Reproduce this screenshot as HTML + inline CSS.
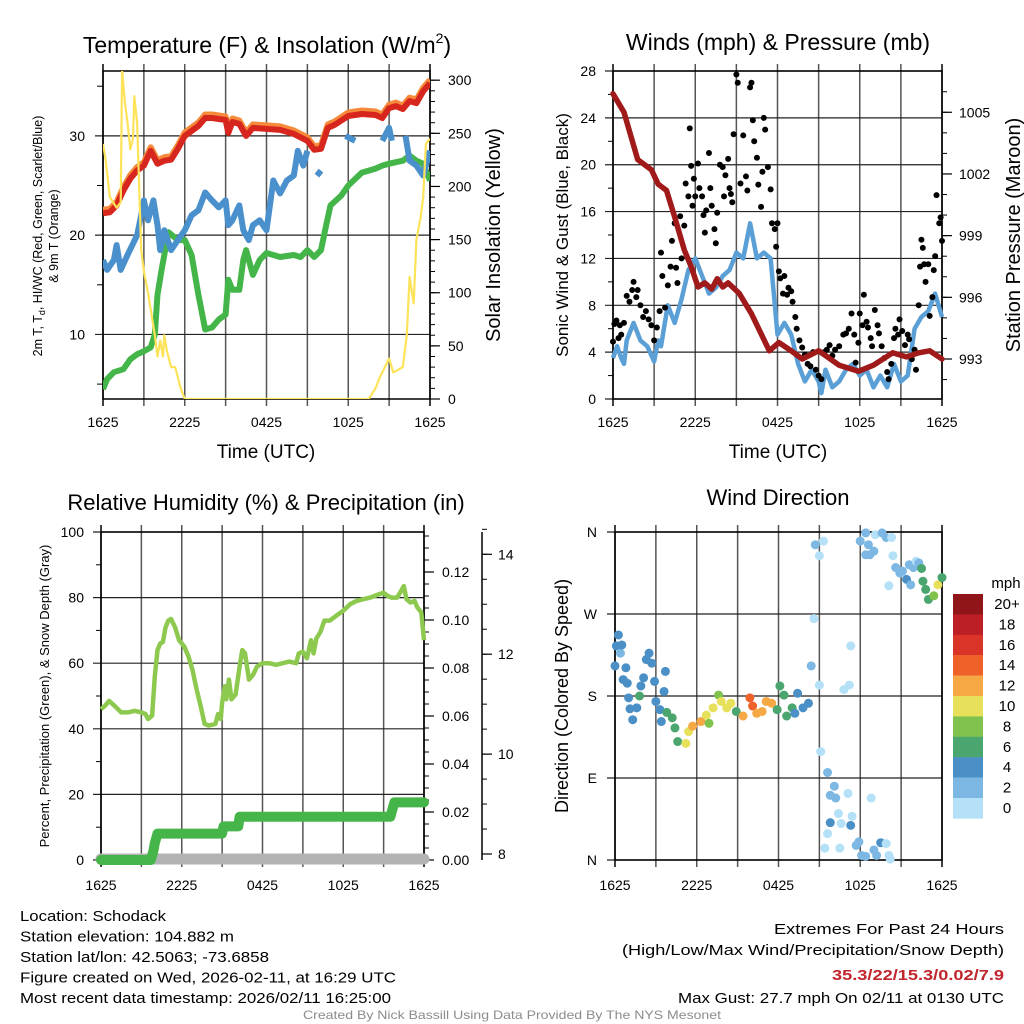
<!DOCTYPE html>
<html><head><meta charset="utf-8"><style>
html,body{margin:0;padding:0;background:#fff;}
svg{display:block;font-family:"Liberation Sans",sans-serif;}
</style></head><body>
<svg id="fig" xmlns="http://www.w3.org/2000/svg" width="1024" height="1024" viewBox="0 0 1024 1024">
<rect width="1024" height="1024" fill="#fff"/>
</svg>
<script>
// ---------- DATA ----------
const hoursT = [0,0.5,1,1.5,2,2.5,3,3.5,4,4.5,5,5.5,6,7,7.5,8,8.5,9,9.2,9.5,10,10.5,11,12,13,14,15,15.5,16,16.5,17,18,19,20,20.5,21,21.5,22,22.5,23,23.5,24];
const tempRed = [22.2,22.3,23,24.5,25.7,26.5,27,28.5,27.2,27.5,27.6,28.7,30,31,31.8,31.8,31.7,31.6,30.3,31.4,31.2,30,30.8,30.7,30.6,30.2,29.5,28.6,28.7,30.8,31.1,32,32.2,32.1,31.8,32.8,33,32.7,33.5,33.3,34.5,35.3];
const hoursWC = [0,0.3,0.8,1,1.3,1.8,2.5,2.8,3,3.3,3.7,4,4.2,4.5,5,5.5,6,6.5,7,7.5,8,8.5,9,9.2,9.5,10,10.3,10.7,11,11.5,12,12.3,12.5,13,13.5,14,14.3,14.7,15,15.3,15.7,16,17.3,17.8,18.5,19,20.4,20.5,21,21.2,21.6,22.2,22.5,23,23.5,24];
const windChill = [17.5,16.5,17.5,19,16.5,18,20,22,23.5,21.5,23.5,21,18.5,20.5,18.5,19.5,20.5,22,22.5,24.3,23.5,22.8,23.5,21,21.5,23,20.5,19.5,21,21.5,20.5,23.5,25.5,24.2,25.5,26,28.5,27,28.5,null,26,26.5,null,30,29.5,null,null,29.5,30.8,29.5,null,30,27.5,27,26,28.5];
const hoursTd = [0,0.3,0.8,1.5,2,2.5,3,3.5,3.8,4,4.3,4.5,4.8,5.5,6,6.5,7,7.5,8,8.5,9,9.2,9.5,10,10.3,10.5,11,11.5,12,13,14,14.5,15,15.5,16,16.3,16.7,17.5,18,19,20,20.5,21,22,22.5,23,23.5,24];
const dewPoint = [4.5,5.5,6.2,6.5,7.5,8,8.3,8.7,10,14,16.5,18,20.3,19.5,19.5,18,14,10.5,10.7,11.5,12,15.5,14.5,14.5,17.5,18.5,16,17.5,18.2,17.8,18,17.8,18.5,17.8,18.5,20.5,23,24,25,26.3,26.7,27,27.2,27.5,28,27.5,27.2,25.5];
const hoursSol = [0,0.2,0.5,1,1.3,1.4,1.6,1.8,2,2.2,2.3,2.5,2.8,3,3.3,3.8,4,4.2,4.4,4.5,4.7,5,5.3,5.7,6,19.5,20,20.3,20.5,21,21.3,21.6,22,22.3,22.5,22.8,23,23.3,23.5,23.7,24];
const solar = [240,225,190,180,185,310,280,260,235,245,285,260,140,120,100,60,40,55,40,60,45,30,30,10,0,0,10,20,25,38,25,27,30,60,115,90,150,170,190,240,245];

const hoursWind = [0,0.3,0.6,0.8,1,1.5,2,2.5,3,3.3,3.5,4,4.5,5,5.5,6,6.5,7,7.5,8,8.5,9,9.5,10,10.5,11,11.5,12,12.5,13,13.5,14,14.5,15,15.2,15.5,16,16.5,17,17.5,18,18.5,19,19.5,20,20.5,21,21.5,22,22.5,23,23.5,24];
const sonicWind = [3.5,4.5,3.5,3,5,6.5,5,4.5,3.2,5,4.5,8,6.5,8.5,11,12,10.5,9,9.5,10.5,11,12.5,12,15,12,12.5,12,5.5,6.5,5.5,3,1.5,2.5,1.5,0.5,2.5,1,1.5,2.5,3,2,2.5,1,2,1,3,1.5,2,6,7,7.5,9,7];
const gustHours = [0,0.1,0.25,0.4,0.5,0.6,0.8,1,1.2,1.4,1.5,1.7,1.8,2,2.2,2.4,2.6,2.8,3,3.2,3.4,3.5,3.6,3.8,4,4.2,4.3,4.5,4.6,4.7,4.9,5,5.2,5.3,5.5,5.6,5.7,5.8,5.9,6,6.2,6.3,6.5,6.6,6.7,6.8,7,7.1,7.2,7.4,7.5,7.6,7.8,8,8.1,8.2,8.4,8.5,8.6,8.7,8.8,9,9.1,9.3,9.5,9.7,9.8,10,10.1,10.2,10.3,10.5,10.6,10.8,10.9,11,11.1,11.3,11.5,11.6,11.8,11.9,12,12.1,12.2,12.4,12.5,12.7,12.8,13,13.1,13.3,13.4,13.6,13.8,14,14.2,14.4,14.6,14.8,15,15.2,15.4,15.6,15.8,16,16.2,16.5,16.8,17,17.2,17.4,17.6,17.7,17.9,18,18.2,18.3,18.5,18.6,18.8,18.9,19.1,19.3,19.4,19.6,19.8,20,20.1,20.3,20.5,20.6,20.8,20.9,21.1,21.3,21.5,21.6,21.8,22,22.1,22.3,22.4,22.5,22.6,22.7,22.8,23,23.1,23.3,23.4,23.5,23.6,23.8,23.9,24];
const gustSpeed = [4.9,6.4,6.7,5.2,6.3,5.5,6.5,8.8,8.3,9.3,10,8.7,9.3,8,7,7.5,6.8,6.3,5,6.1,7.5,12.5,10.5,7.8,9.7,11.3,13.5,15,11.2,9.9,15.6,12,14.8,18.4,17.3,23.1,19.9,16.5,18.8,17.3,20.1,18,17.3,15.7,14.2,16.1,21,18,16.5,14.5,13.3,15.9,20,19.8,17.3,19.1,20.5,18,17.5,16.8,22.6,27.7,27,18.4,22.5,19,17.8,26.6,27,23.8,22,20.6,18.3,16.4,19.4,24,23,19.8,17.9,15,14.5,13,15,10.9,10.3,9,10.5,8.9,9.5,9.2,8.3,7,6,5,4.4,3.8,3,2.8,4,2.5,2,1.7,4,4.2,4.6,3.7,4.2,4.5,5.5,5.6,6,7.3,5.5,3.1,4.8,7.3,6.3,8.9,6.6,6.1,5.2,4.5,7.6,6.3,5.6,4.5,3.5,2.3,1.7,3,5.2,6,5.5,6.8,5.8,4.6,5.5,5.1,3.4,4.2,2.5,8,11.3,13.6,12.9,11.5,10,11.5,7.1,8.7,11,12.2,17.4,15,15.5,13.5];
const hoursP = [0,0.8,1.8,2.8,3.3,3.9,4.5,5.2,5.7,6.2,6.7,7.2,7.6,8,8.4,9.2,10.1,11.4,12.1,13,13.8,15,16.5,17.9,19,20.4,21.4,22.3,23.1,24];
const pressure = [1005.9,1005,1002.7,1002.2,1001.5,1001.2,999.9,998.3,997.5,996.5,996.7,996.4,996.9,996.5,996.7,996.2,995.2,993.4,993.8,993.4,993.0,993.4,992.7,992.4,992.7,993.3,993.1,993.3,993.4,993.0];

const hoursRH = [0,0.3,0.6,1,1.5,2,2.5,3,3.3,3.5,3.8,4,4.2,4.4,4.6,4.8,5,5.2,5.5,5.8,6.2,6.5,6.8,7.1,7.4,7.7,8,8.5,8.7,8.9,9,9.2,9.3,9.5,9.7,10,10.3,10.5,10.7,11,11.3,11.6,12,12.5,13,13.5,14,14.5,14.7,15,15.3,15.6,15.8,16,16.3,16.6,17,17.5,18,18.5,19,19.5,20,20.5,21,21.3,21.6,22,22.3,22.5,22.7,23,23.3,23.5,23.8,24];
const relHum = [46,47,48.5,47,45,45,45.5,45,44.5,43,44,56,64,66,66.5,71,73,73.5,71,67,65,62,58,52,47,41.5,41,41.5,44.5,43,48,53,49,55,49,50.5,59,64,63,55,56.5,59,60,60,59.5,60,60.5,60,63,63.5,61.5,67,63,67.5,69.5,73,73,74.5,76,78,79,79.5,80,80.8,81.5,80.5,80,80,82,83.5,79.5,78.5,79,77,75.5,67];
const hoursPr = [0,3.7,3.9,4.0,4.2,9.0,9.1,10.2,10.3,21.5,21.7,21.8,24];
const precip = [0,0,0.004,0.007,0.011,0.011,0.014,0.014,0.018,0.018,0.022,0.024,0.024];
const hoursSnow = [0,24];
const snowDepth = [7.9,7.9];

const dirHours = [0,0.1,0.25,0.4,0.5,0.6,0.8,0.9,1,1.1,1.3,1.6,1.8,1.9,2.1,2.3,2.5,2.7,2.9,3,3.3,3.4,3.6,3.7,3.8,4.2,4.4,4.6,5.2,5.4,5.7,6.3,6.7,6.9,7.2,7.6,7.8,8.2,8.5,8.9,9.4,9.9,10.1,10.4,10.8,11.1,11.5,11.9,12.1,12.4,12.6,13,13.2,13.4,13.8,14.2,14.4,15,14.6,14.7,15,15.3,15.1,15.6,15.8,16.1,16.2,16.4,15.8,16.6,17.1,17.3,17.2,16.8,15.6,15.4,16.5,17.3,17.4,17.7,17.9,18.1,18.4,18.8,19,19.2,19.5,19.9,20.1,20.2,18,18.4,18.6,18.4,18.7,19,19.1,19.6,19.9,20.3,20.4,20.6,20.9,21.1,21.4,21.6,20.1,21.7,21.9,22.1,22.3,22.5,22.6,22.8,23,23.4,23.7,24];
const dirDeg = [213,235,247,227,236,198,211,194,178,166,154,167,180,191,200,220,227,216,196,174,165,152,185,207,162,156,145,130,128,141,147,152,159,150,167,181,174,167,172,163,158,178,169,161,163,174,172,165,191,181,158,167,161,183,167,172,213,192,265,346,334,350,119,96,71,81,68,51,41,40,73,235,192,187,29,13,13,38,48,16,20,5,4,68,11,5,19,18,5,1,350,359,346,335,335,339,357,359,354,354,334,321,315,317,308,324,301,302,321,328,326,320,306,297,286,290,302,310];
const dirSpeed = [4,4,4,3,4,4,4,4,4,4,4,4,6,4,4,4,4,4,4,4,4,4,4,4,6,6,6,7,10,10,12,12,10,8,10,8,10,10,10,6,12,14,14,12,12,12,12,6,6,6,6,6,4,4,4,4,2,0,0,2,0,0,0,3,2,2,2,0,4,0,0,0,0,0,0,0,0,4,0,3,3,2,2,0,2,2,4,0,0,0,3,2,3,3,3,3,0,2,2,0,0,2,2,3,4,2,0,2,2,0,3,6,6,6,6,8,10,6];
const cbarLabels = ["20+","18","16","14","12","10","8","6","4","2","0"];
const cbarColors = ["#8f1519","#bd1f26","#da3429","#ee6229","#f5a843","#e7e05a","#80c24e","#4aa56e","#4a8fc6","#7cb8e3","#b4e1f7"];
const xTickLabels = ["1625","2225","0425","1025","1625"];
const tempTicks = [10,20,30];
const solarTicks = [0,50,100,150,200,250,300];
const windTicks = [0,4,8,12,16,20,24,28];
const presTicks = [993,996,999,1002,1005];
const rhTicks = [0,20,40,60,80,100];
const precipTicks = [0,0.02,0.04,0.06,0.08,0.10,0.12];
const snowTicks = [8,10,12,14];
const dirTicks = [0,90,180,270,360];
const dirLabels = ["N","E","S","W","N"];

// ---------- HELPERS ----------
const NS = "http://www.w3.org/2000/svg";
const svg = document.getElementById("fig");
function mk(tag, attrs, parent){ const e=document.createElementNS(NS,tag); for(const k in attrs) e.setAttribute(k,attrs[k]); (parent||svg).appendChild(e); return e; }
function grp(){ return mk("g",{}); }
function txt(parent,x,y,s,size,anchor,extra){ const t=mk("text",Object.assign({x:x,y:y,"font-size":size,"text-anchor":anchor||"start",fill:"#000"},extra||{}),parent); t.textContent=s; return t; }
function pathFrom(xs,ys,fx,fy){ let d="",pen=false; for(let i=0;i<xs.length;i++){ if(ys[i]===null){pen=false;continue;} d+=(pen?"L":"M")+fx(xs[i]).toFixed(1)+","+fy(ys[i]).toFixed(1); pen=true;} return d; }

function frame(g,x0,x1,y0,y1,hLines){
  for(let i=0;i<=8;i++){ const x=x0+(x1-x0)*i/8;
    const l=mk("line",{x1:x,x2:x,y1:y0-7,y2:y1+7,stroke:(i===0||i===8)?"#000":"#555","stroke-width":1.5},g);
    
     }
  hLines.forEach(y=>{ const l=mk("line",{x1:x0-8,x2:x1,y1:y,y2:y,stroke:"#222","stroke-width":1.2},g);
    
     });
  const r=mk("rect",{x:x0,y:y0,width:x1-x0,height:y1-y0,fill:"none",stroke:"#000","stroke-width":1.5},g);
  
  
}
function xLabels(g,x0,x1,y){
  xTickLabels.forEach((s,i)=>{ const t=txt(g,x0+(x1-x0)*i/4,y,s,14,"middle");
    
     });
}
function minorTicks(g,x,vals,fy,dir,len){
  vals.forEach(v=>{ const y=fy(v); const l=mk("line",{x1:x,x2:x+dir*len,y1:y,y2:y,stroke:"#000","stroke-width":1},g);
    
     });
}
function range(a,b,s){ const r=[]; for(let v=a;v<=b+1e-9;v+=s) r.push(+v.toFixed(4)); return r; }

// ---------- PANEL 1: TEMPERATURE ----------
(function(){
  const g=grp();  
  const x0=103,x1=430,y0=71,y1=399;
  const fx=h=>x0+h*(x1-x0)/24, fy=v=>399-(v-3.5)*9.93, fs=w=>399-w*1.0627;
  frame(g,x0,x1,y0,y1,tempTicks.map(fy));
  minorTicks(g,x0,[5,15,25,35],fy,-1,6);
  minorTicks(g,x1,range(0,300,10),fs,1,5);
  solarTicks.forEach(v=>{ const l=mk("line",{x1:x1,x2:x1+10,y1:fs(v),y2:fs(v),stroke:"#000","stroke-width":1.2},g);
     
    const t=txt(g,448,fs(v)+5,String(v),14,"start");   });
  tempTicks.forEach(v=>{ const t=txt(g,85,fy(v)+5,String(v),14,"end");   });
  const cp=mk("clipPath",{id:"c1"},g); mk("rect",{x:x0,y:y0,width:x1-x0,height:y1-y0},cp);
  const d=mk("g",{"clip-path":"url(#c1)"},g);
  let p=mk("path",{d:pathFrom(hoursTd,dewPoint,fx,fy),fill:"none",stroke:"#44b649","stroke-width":6,"stroke-linejoin":"round"},d);
   
  p=mk("path",{d:pathFrom(hoursWC,windChill,fx,fy),fill:"none",stroke:"#4a90cc","stroke-width":6,"stroke-linejoin":"round"},d);
   
  p=mk("path",{d:pathFrom(hoursT,tempRed.map(v=>v+0.35),fx,fy),fill:"none",stroke:"#f58a3a","stroke-width":6,"stroke-linejoin":"round"},d);
   
  p=mk("path",{d:pathFrom(hoursT,tempRed,fx,fy),fill:"none",stroke:"#d7261e","stroke-width":6,"stroke-linejoin":"round"},d);
   
  p=mk("path",{d:pathFrom(hoursSol,solar,fx,fs),fill:"none",stroke:"#fde35a","stroke-width":2.2,"stroke-linejoin":"round"},d);
   
  xLabels(g,x0,x1,427);
  let t=txt(g,266,458,"Time (UTC)",19,"middle");  
  t=txt(g,267,53,"Temperature (F) & Insolation (W/m",23,"middle");  
  const sup=mk("tspan",{"font-size":14,dy:-10},t); sup.textContent="2";
  const cl=mk("tspan",{"font-size":23,dy:10},t); cl.textContent=")";
  t=txt(g,0,0,"Solar Insolation (Yellow)",20,"middle",{transform:"translate(500,235) rotate(-90)"});  
  t=txt(g,0,0,"",12.5,"middle",{transform:"translate(42,236) rotate(-90)"});  
  t.innerHTML='2m T, T<tspan font-size="9" dy="3">d</tspan><tspan dy="-3">, HI/WC (Red, Green, Scarlet/Blue)</tspan>';
  t=txt(g,0,0,"& 9m T (Orange)",12.5,"middle",{transform:"translate(58,236) rotate(-90)"});  
})();

// ---------- PANEL 2: WIND ----------
(function(){
  const g=grp();  
  const x0=613,x1=942,y0=71,y1=399;
  const fx=h=>x0+h*(x1-x0)/24, fy=m=>399-m*11.714, fp=p=>359-(p-993)*20.56;
  frame(g,x0,x1,y0,y1,windTicks.map(fy));
  minorTicks(g,x0,[2,6,10,14,18,22,26],fy,-1,5);
  minorTicks(g,x1,range(992,1006,1),fp,1,5);
  presTicks.forEach(v=>{ const l=mk("line",{x1:x1,x2:x1+10,y1:fp(v),y2:fp(v),stroke:"#000","stroke-width":1.2},g);
     
    const t=txt(g,959,fp(v)+5,String(v),14,"start");   });
  windTicks.forEach(v=>{ const t=txt(g,596,fy(v)+5,String(v),14,"end");   });
  let p=mk("path",{d:pathFrom(hoursWind,sonicWind,fx,fy),fill:"none",stroke:"#5a9fd6","stroke-width":4.5,"stroke-linejoin":"round"},g);
   
  gustHours.forEach((h,i)=>{ const c=mk("circle",{cx:fx(h),cy:fy(gustSpeed[i]),r:3,fill:"#000"},g);
      });
  p=mk("path",{d:pathFrom(hoursP,pressure,fx,fp),fill:"none",stroke:"#a01a1a","stroke-width":5.5,"stroke-linejoin":"round","stroke-linecap":"round"},g);
   
  xLabels(g,x0,x1,427);
  let t=txt(g,778,458,"Time (UTC)",19,"middle");  
  t=txt(g,778,50,"Winds (mph) & Pressure (mb)",23,"middle");  
  t=txt(g,0,0,"Sonic Wind & Gust (Blue, Black)",17,"middle",{transform:"translate(568,235) rotate(-90)"});  
  t=txt(g,0,0,"Station Pressure (Maroon)",20,"middle",{transform:"translate(1020,235) rotate(-90)"});  
})();

// ---------- PANEL 3: RH ----------
(function(){
  const g=grp();  
  const x0=101,x1=424,y0=532,y1=860;
  const fx=h=>x0+h*(x1-x0)/24, fy=r=>860-r*3.28, fpr=i=>860-i*2400, fsn=s=>854-(s-8)*49.95;
  frame(g,x0,x1,y0,y1,rhTicks.map(fy));
  minorTicks(g,x0,[10,30,50,70,90],fy,-1,5);
  minorTicks(g,x1,range(0,0.135,0.005),fpr,1,5);
  precipTicks.forEach(v=>{ const l=mk("line",{x1:x1,x2:x1+10,y1:fpr(v),y2:fpr(v),stroke:"#000","stroke-width":1.2},g);
     
    const t=txt(g,442,fpr(v)+5,v.toFixed(2),14,"start");   });
  const ax=mk("line",{x1:482,x2:482,y1:532,y2:860,stroke:"#000","stroke-width":1.5},g);
   
  minorTicks(g,482,range(8,14.5,0.5),fsn,1,5);
  snowTicks.forEach(v=>{ const l=mk("line",{x1:482,x2:492,y1:fsn(v),y2:fsn(v),stroke:"#000","stroke-width":1.2},g);
     
    const t=txt(g,498,fsn(v)+5,String(v),14,"start");   });
  rhTicks.forEach(v=>{ const t=txt(g,84,fy(v)+5,String(v),14,"end");   });
  let p=mk("path",{d:pathFrom(hoursSnow,snowDepth,fx,fsn),fill:"none",stroke:"#b3b3b3","stroke-width":11,"stroke-linecap":"round"},g);
   
  p=mk("path",{d:pathFrom(hoursPr,precip,fx,fpr),fill:"none",stroke:"#46b549","stroke-width":10,"stroke-linecap":"round","stroke-linejoin":"round"},g);
   
  p=mk("path",{d:pathFrom(hoursRH,relHum,fx,fy),fill:"none",stroke:"#8dc94f","stroke-width":4.5,"stroke-linejoin":"round"},g);
   
  xLabels(g,x0,x1,890);
  let t=txt(g,266,510,"Relative Humidity (%) & Precipitation (in)",22,"middle");  
  t=txt(g,0,0,"Percent, Precipitation (Green), & Snow Depth (Gray)",13,"middle",{transform:"translate(49,696) rotate(-90)"});  
})();

// ---------- PANEL 4: DIRECTION ----------
(function(){
  const g=grp();  
  const x0=615,x1=942,y0=532,y1=860;
  const fx=h=>x0+h*(x1-x0)/24, fy=d=>860-d*(328/360);
  frame(g,x0,x1,y0,y1,dirTicks.map(fy));
  dirTicks.forEach((v,i)=>{ const t=txt(g,597,fy(v)+5,dirLabels[i],14,"end");   });
  const col=s=>cbarColors[10-Math.min(10,Math.floor(s/2))];
  dirHours.forEach((h,i)=>{ const c=mk("circle",{cx:fx(h),cy:fy(dirDeg[i]),r:4.5,fill:col(dirSpeed[i])},g);
      });
  xLabels(g,x0,x1,890);
  let t=txt(g,778,505,"Wind Direction",22,"middle");  
  t=txt(g,0,0,"Direction (Colored By Speed)",18,"middle",{transform:"translate(568,696) rotate(-90)"});  
  const cb=mk("g",{},g);  
  cbarLabels.forEach((s,i)=>{ const y=594+i*20.4;
    const r=mk("rect",{x:953,y:y,width:30,height:20.6,fill:cbarColors[i]},cb);
     
    const tl=txt(cb,1007,y+15,s,15,"middle");   });
  t=txt(cb,1006,588,"mph",15,"middle");  
})();

// ---------- FOOTER ----------
(function(){
  const g=grp();  
  const left=[["Location: Schodack",146],["Station elevation: 104.882 m",214],["Station lat/lon: 42.5063; -73.6858",249],["Figure created on Wed, 2026-02-11, at 16:29 UTC",376],["Most recent data timestamp: 2026/02/11 16:25:00",371]];
  left.forEach((a,i)=>{ const t=txt(g,20,921+i*20.5,a[0],15,"start",{textLength:a[1],lengthAdjust:"spacingAndGlyphs"});   });
  const right=[["Extremes For Past 24 Hours",230,934,"#000"],["(High/Low/Max Wind/Precipitation/Snow Depth)",382,955,"#000"],["35.3/22/15.3/0.02/7.9",172,980,"#c1262c"],["Max Gust: 27.7 mph On 02/11 at 0130 UTC",326,1003,"#000"]];
  right.forEach((a,i)=>{ const t=txt(g,1004,a[2],a[0],15,"end",{textLength:a[1],lengthAdjust:"spacingAndGlyphs",fill:a[3],"font-weight":i===2?"bold":"normal"});   });
  const c=txt(g,512,1019,"Created By Nick Bassill Using Data Provided By The NYS Mesonet",12,"middle",{fill:"#8c8c8c",textLength:418,lengthAdjust:"spacingAndGlyphs"});
   
})();
</script>
</body></html>
